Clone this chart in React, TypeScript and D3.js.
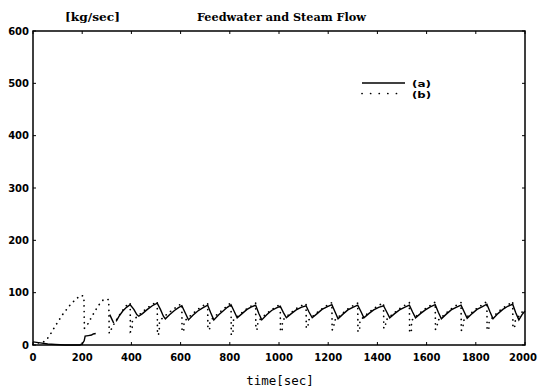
import React from "react";
import * as d3 from "d3";

const W = 539;
const H = 391;

const xTicks = [0, 200, 400, 600, 800, 1000, 1200, 1400, 1600, 1800, 2000];
const yTicks = [0, 100, 200, 300, 400, 500, 600];

const titleText = "Feedwater and Steam Flow";
const unitText = "[kg/sec]";
const xLabelText = "time[sec]";
const legendLabels = ["(a)", "(b)"];

// series (a): solid. NaN marks a gap in the trace
const seriesA: [number, number][] = [
  [0, 6], [15, 5], [30, 4], [60, 2], [90, 1], [130, 0], [190, 0], [200, 2], [208, 8], [212, 17], [225, 18], [238, 19], [245, 21], [255, 22],
  [256, NaN],
  [312, 58], [320, 50], [328, 42],
  [329, NaN],
  [338, 45], [350, 55], [365, 65], [380, 72], [395, 77], [410, 68], [422, 58], [430, 55],
  [445, 60], [465, 68], [485, 75], [505, 80], [518, 68], [530, 55], [538, 50],
  [555, 58], [575, 66], [590, 71], [605, 75], [618, 62], [632, 48],
  [650, 57], [670, 65], [690, 71], [710, 76], [722, 62], [735, 48],
  [755, 58], [775, 66], [790, 72], [805, 77], [818, 64], [830, 52],
  [850, 60], [870, 68], [888, 73], [905, 76], [918, 60], [930, 48],
  [950, 58], [970, 66], [990, 71], [1005, 74], [1018, 62], [1030, 52],
  [1050, 60], [1070, 67], [1090, 72], [1110, 75], [1122, 63], [1135, 52],
  [1155, 60], [1175, 68], [1195, 73], [1215, 77], [1228, 63], [1240, 50],
  [1260, 59], [1280, 67], [1300, 72], [1320, 76], [1333, 64], [1345, 52],
  [1365, 60], [1385, 67], [1405, 72], [1425, 75], [1438, 63], [1450, 52],
  [1470, 60], [1490, 67], [1510, 72], [1530, 76], [1543, 63], [1555, 52],
  [1575, 60], [1595, 67], [1615, 73], [1635, 77], [1648, 62], [1660, 50],
  [1680, 59], [1700, 67], [1720, 72], [1740, 76], [1753, 63], [1765, 51],
  [1785, 60], [1805, 68], [1825, 73], [1845, 78], [1858, 63], [1870, 50],
  [1890, 60], [1910, 68], [1930, 74], [1950, 78], [1962, 62], [1975, 48],
  [1988, 58], [2000, 65],
];

// series (b): dotted
const seriesB: [number, number][] = [
  [0, 1], [20, 4], [40, 5], [55, 10], [70, 20], [90, 36], [120, 58], [150, 76], [175, 88], [195, 95], [207, 93],
  [209, 32], [218, 36], [240, 55], [265, 75], [285, 86], [300, 88], [308, 86],
  [310, 22], [318, 30], [335, 45], [355, 60], [375, 73], [390, 80], [395, 80],
  [396, 25], [403, 27], [404, 45], [420, 53], [440, 61], [465, 71], [488, 78], [505, 83],
  [506, 19], [513, 22], [514, 46], [530, 53], [550, 61], [570, 68], [590, 75], [605, 79],
  [606, 25], [613, 28], [614, 45], [635, 54], [655, 62], [675, 70], [695, 76], [710, 80],
  [711, 29], [718, 31], [719, 46], [740, 55], [760, 63], [780, 71], [795, 77], [805, 81],
  [806, 19], [813, 22], [814, 47], [835, 56], [855, 64], [875, 71], [892, 76], [905, 80],
  [906, 29], [913, 31], [914, 45], [935, 54], [955, 62], [975, 69], [992, 74], [1005, 78],
  [1006, 25], [1013, 28], [1014, 47], [1035, 56], [1055, 64], [1075, 71], [1095, 76], [1110, 79],
  [1111, 32], [1118, 34], [1119, 47], [1140, 56], [1160, 64], [1180, 71], [1200, 77], [1215, 81],
  [1216, 29], [1223, 31], [1224, 46], [1245, 55], [1265, 63], [1285, 71], [1305, 76], [1320, 80],
  [1321, 25], [1328, 28], [1329, 47], [1350, 56], [1370, 64], [1390, 71], [1410, 77], [1425, 80],
  [1426, 32], [1433, 34], [1434, 47], [1455, 56], [1475, 64], [1495, 71], [1515, 77], [1530, 81],
  [1531, 23], [1538, 26], [1539, 47], [1560, 56], [1580, 64], [1600, 71], [1620, 77], [1635, 82],
  [1636, 30], [1643, 32], [1644, 46], [1665, 55], [1685, 63], [1705, 71], [1725, 77], [1740, 81],
  [1741, 28], [1748, 30], [1749, 46], [1770, 56], [1790, 65], [1810, 72], [1830, 78], [1845, 83],
  [1846, 28], [1853, 30], [1854, 45], [1875, 56], [1895, 65], [1915, 72], [1935, 78], [1950, 83],
  [1951, 32], [1958, 34], [1959, 45], [1980, 58], [2000, 70],
];

export default function App() {
  const left = 33, right = 525, top = 31, bottom = 345;
  const x = d3.scaleLinear().domain([0, 2000]).range([left, right]);
  const y = d3.scaleLinear().domain([0, 600]).range([bottom, top]);
  const line = d3
    .line<[number, number]>()
    .defined((d) => !isNaN(d[1]))
    .x((d) => x(d[0]))
    .y((d) => y(d[1]));

  const tickFont = { fontFamily: "DejaVu Sans", fontWeight: 700, fontSize: 10 } as const;
  const headFont = { fontFamily: "DejaVu Serif", fontWeight: 700, fontSize: 10.5 } as const;
  const legendFont = { fontFamily: "DejaVu Sans", fontWeight: 700, fontSize: 9.5 } as const;

  return (
    <svg width={W} height={H} style={{ position: "absolute", left: 0, top: 0, background: "#fff" }}>
      <rect x={0} y={0} width={W} height={H} fill="#fff" />
      {/* title texts */}
      <text x={65} y={20.5} textLength={55} lengthAdjust="spacingAndGlyphs" style={headFont}>
        {unitText}
      </text>
      <text x={197} y={20.5} textLength={169} lengthAdjust="spacingAndGlyphs" style={headFont}>
        {titleText}
      </text>

      {/* data */}
      <path d={line(seriesB) || ""} fill="none" stroke="#000" strokeWidth={1.7} strokeDasharray="0.1,5.5" strokeLinecap="round" />
      <path d={line(seriesA) || ""} fill="none" stroke="#000" strokeWidth={1.4} />

      {/* frame */}
      <rect x={left} y={top} width={right - left} height={bottom - top} fill="none" stroke="#000" strokeWidth={1.5} />

      {/* x ticks */}
      {xTicks.map((t) => (
        <g key={"x" + t}>
          <line x1={x(t)} x2={x(t)} y1={bottom} y2={bottom - 3} stroke="#000" strokeWidth={1} />
          <line x1={x(t)} x2={x(t)} y1={top} y2={top + 3} stroke="#000" strokeWidth={1} />
          <text x={x(t) - (t === 2000 ? 2 : 0)} y={361} textAnchor="middle" style={tickFont}>
            {t}
          </text>
        </g>
      ))}
      {/* y ticks */}
      {yTicks.map((v) => (
        <g key={"y" + v}>
          <line x1={left} x2={left + 3} y1={y(v)} y2={y(v)} stroke="#000" strokeWidth={1} />
          <line x1={right} x2={right - 3} y1={y(v)} y2={y(v)} stroke="#000" strokeWidth={1} />
          <text x={29} y={y(v) + 3.5} textAnchor="end" style={tickFont}>
            {v}
          </text>
        </g>
      ))}

      {/* x axis label */}
      <text x={280} y={385} textAnchor="middle" style={{ fontFamily: "DejaVu Sans Mono", fontSize: 12.5 }}>
        {xLabelText}
      </text>

      {/* legend */}
      <line x1={362} x2={405} y1={83} y2={83} stroke="#000" strokeWidth={1.5} />
      <line x1={362} x2={405} y1={93.5} y2={93.5} stroke="#000" strokeWidth={1.7} strokeDasharray="0.1,8.5" strokeLinecap="round" />
      <text x={412} y={86.5} textLength={19} lengthAdjust="spacingAndGlyphs" style={legendFont}>
        {legendLabels[0]}
      </text>
      <text x={412} y={98} textLength={19} lengthAdjust="spacingAndGlyphs" style={legendFont}>
        {legendLabels[1]}
      </text>
    </svg>
  );
}
